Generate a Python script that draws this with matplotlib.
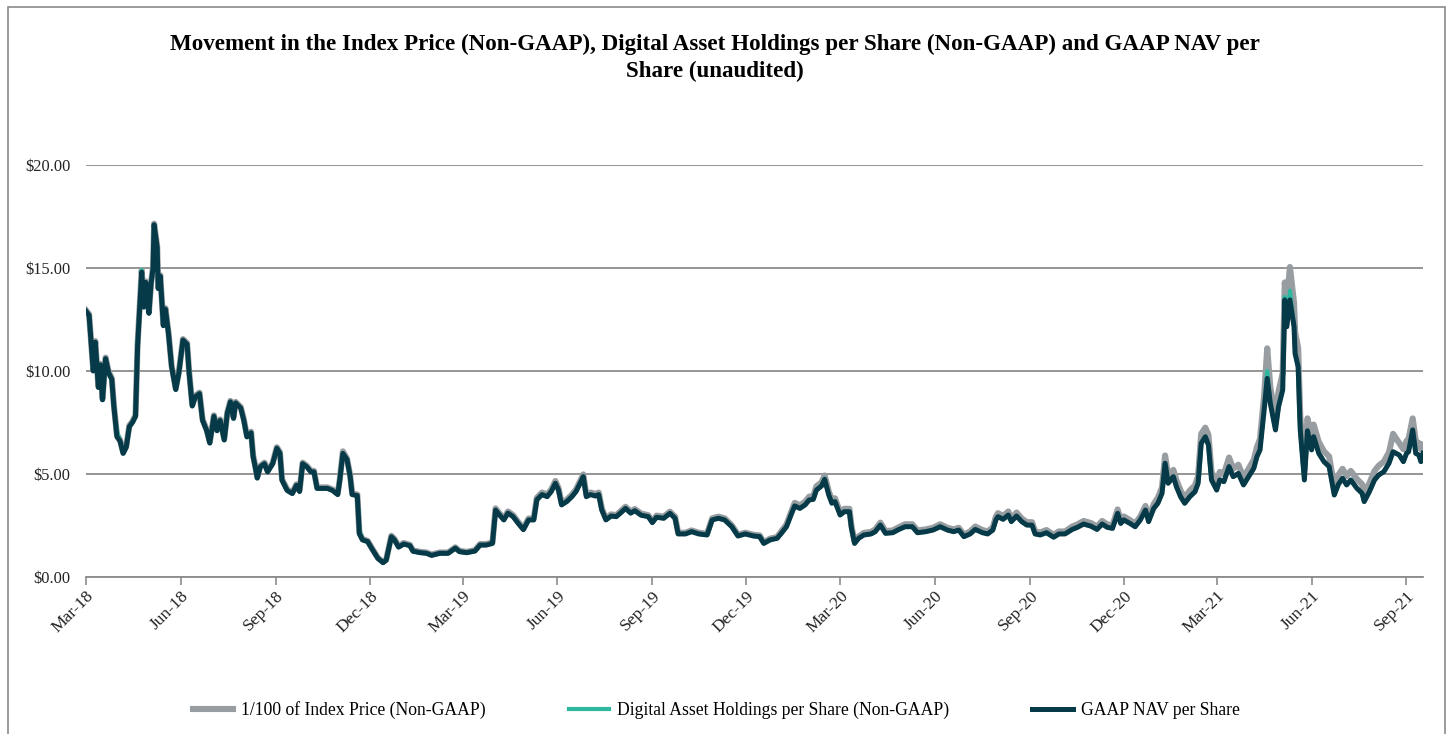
import matplotlib
matplotlib.use("Agg")
import matplotlib.pyplot as plt
import matplotlib.dates as mdates
from matplotlib.patches import Rectangle
from matplotlib.lines import Line2D
from matplotlib.ticker import FuncFormatter
import pandas as pd

# ---------------- data ----------------
dates = [
    "2018-03-01", "2018-03-04", "2018-03-08", "2018-03-10", "2018-03-13", "2018-03-15", "2018-03-17", "2018-03-20", "2018-03-23", "2018-03-26",
    "2018-03-28", "2018-03-31", "2018-04-03", "2018-04-06", "2018-04-09", "2018-04-12", "2018-04-15", "2018-04-18", "2018-04-20", "2018-04-24",
    "2018-04-26", "2018-04-28", "2018-05-01", "2018-05-03", "2018-05-05", "2018-05-06", "2018-05-09", "2018-05-10", "2018-05-12", "2018-05-15",
    "2018-05-17", "2018-05-20", "2018-05-23", "2018-05-27", "2018-05-30", "2018-06-03", "2018-06-07", "2018-06-09", "2018-06-12", "2018-06-15",
    "2018-06-19", "2018-06-22", "2018-06-26", "2018-06-29", "2018-07-03", "2018-07-06", "2018-07-09", "2018-07-13", "2018-07-16", "2018-07-19",
    "2018-07-22", "2018-07-24", "2018-07-29", "2018-08-01", "2018-08-04", "2018-08-08", "2018-08-10", "2018-08-12", "2018-08-14", "2018-08-17",
    "2018-08-21", "2018-08-24", "2018-08-29", "2018-09-02", "2018-09-05", "2018-09-07", "2018-09-12", "2018-09-17", "2018-09-21", "2018-09-24",
    "2018-09-27", "2018-10-01", "2018-10-05", "2018-10-08", "2018-10-11", "2018-10-16", "2018-10-21", "2018-10-26", "2018-10-31", "2018-11-02",
    "2018-11-05", "2018-11-09", "2018-11-12", "2018-11-14", "2018-11-19", "2018-11-21", "2018-11-24", "2018-11-29", "2018-12-04", "2018-12-09",
    "2018-12-14", "2018-12-17", "2018-12-22", "2018-12-25", "2018-12-29",
    "2019-01-03", "2019-01-09", "2019-01-12", "2019-01-19", "2019-01-25", "2019-01-30", "2019-02-07", "2019-02-15", "2019-02-22", "2019-02-26",
    "2019-03-05", "2019-03-13", "2019-03-18", "2019-03-24", "2019-03-30", "2019-04-02", "2019-04-06", "2019-04-10", "2019-04-14", "2019-04-19",
    "2019-04-24", "2019-04-29", "2019-05-04", "2019-05-09", "2019-05-12", "2019-05-17", "2019-05-22", "2019-05-26", "2019-05-30", "2019-06-02",
    "2019-06-05", "2019-06-10", "2019-06-15", "2019-06-19", "2019-06-23", "2019-06-26", "2019-06-29", "2019-07-03", "2019-07-08", "2019-07-11",
    "2019-07-14", "2019-07-18", "2019-07-23", "2019-07-28", "2019-08-01", "2019-08-06", "2019-08-11", "2019-08-15", "2019-08-21", "2019-08-28",
    "2019-09-01", "2019-09-05", "2019-09-12", "2019-09-18", "2019-09-23", "2019-09-26", "2019-10-03", "2019-10-09", "2019-10-16", "2019-10-24",
    "2019-10-29", "2019-11-04", "2019-11-10", "2019-11-17", "2019-11-23", "2019-11-30", "2019-12-08", "2019-12-14", "2019-12-18", "2019-12-24",
    "2019-12-31",
    "2020-01-04", "2020-01-09", "2020-01-14", "2020-01-17", "2020-01-22", "2020-01-27", "2020-01-31", "2020-02-04", "2020-02-07", "2020-02-12",
    "2020-02-15", "2020-02-19", "2020-02-22", "2020-02-25", "2020-03-01", "2020-03-05", "2020-03-10", "2020-03-12", "2020-03-15", "2020-03-19",
    "2020-03-24", "2020-03-31", "2020-04-04", "2020-04-09", "2020-04-14", "2020-04-21", "2020-04-27", "2020-05-03", "2020-05-10", "2020-05-15",
    "2020-05-23", "2020-05-30", "2020-06-06", "2020-06-13", "2020-06-19", "2020-06-24", "2020-06-29", "2020-07-05", "2020-07-10", "2020-07-17",
    "2020-07-22", "2020-07-27", "2020-07-30", "2020-08-01", "2020-08-06", "2020-08-11", "2020-08-14", "2020-08-19", "2020-08-24", "2020-08-29",
    "2020-09-03", "2020-09-06", "2020-09-11", "2020-09-17", "2020-09-24", "2020-09-29", "2020-10-05", "2020-10-12", "2020-10-17", "2020-10-23",
    "2020-10-30", "2020-11-05", "2020-11-10", "2020-11-15", "2020-11-20", "2020-11-25", "2020-11-28", "2020-12-01", "2020-12-07", "2020-12-12",
    "2020-12-17", "2020-12-22", "2020-12-25", "2020-12-30",
    "2021-01-03", "2021-01-07", "2021-01-10", "2021-01-13", "2021-01-18", "2021-01-21", "2021-01-25", "2021-01-29", "2021-02-03", "2021-02-08",
    "2021-02-11", "2021-02-14", "2021-02-18", "2021-02-21", "2021-02-24", "2021-03-01", "2021-03-04", "2021-03-08", "2021-03-13", "2021-03-17",
    "2021-03-22", "2021-03-27", "2021-04-01", "2021-04-06", "2021-04-09", "2021-04-12", "2021-04-16", "2021-04-19", "2021-04-22", "2021-04-27",
    "2021-04-30", "2021-05-04", "2021-05-06", "2021-05-08", "2021-05-11", "2021-05-15", "2021-05-16", "2021-05-19", "2021-05-21", "2021-05-25",
    "2021-05-28", "2021-06-01", "2021-06-03", "2021-06-08", "2021-06-13", "2021-06-18", "2021-06-23", "2021-06-27", "2021-07-01", "2021-07-05",
    "2021-07-09", "2021-07-15", "2021-07-20", "2021-07-22", "2021-07-27", "2021-08-01", "2021-08-05", "2021-08-10", "2021-08-15", "2021-08-19",
    "2021-08-25", "2021-08-29", "2021-09-01", "2021-09-03", "2021-09-07", "2021-09-10", "2021-09-13", "2021-09-15", "2021-09-17",
]

gaap_nav = [
    12.9, 12.7, 10.0, 11.4, 9.2, 10.3, 8.6, 10.6, 9.9, 9.6,
    8.3, 6.8, 6.6, 6.0, 6.3, 7.3, 7.5, 7.8, 11.2, 14.8,
    13.1, 14.3, 12.8, 14.2, 15.0, 17.1, 16.0, 14.0, 14.6, 12.2,
    13.0, 11.8, 10.2, 9.1, 9.9, 11.5, 11.3, 9.9, 8.3, 8.75,
    8.9, 7.6, 7.1, 6.5, 7.8, 7.1, 7.6, 6.65, 7.95, 8.5,
    7.7, 8.45, 8.2, 7.6, 6.8, 7.0, 5.85, 5.35, 4.8, 5.35,
    5.5, 5.1, 5.5, 6.25, 6.0, 4.7, 4.2, 4.05, 4.45, 4.15,
    5.5, 5.35, 5.1, 5.1, 4.3, 4.3, 4.3, 4.2, 4.0, 4.7,
    6.0, 5.7, 4.9, 4.0, 3.95, 2.1, 1.8, 1.72, 1.3, 0.9,
    0.7, 0.82, 1.95, 1.8, 1.45,
    1.6, 1.52, 1.25, 1.18, 1.15, 1.05, 1.15, 1.15, 1.4, 1.23,
    1.18, 1.26, 1.55, 1.55, 1.63, 3.25, 3.0, 2.77, 3.1, 2.93,
    2.6, 2.3, 2.77, 2.77, 3.75, 4.0, 3.9, 4.15, 4.55, 4.22,
    3.5, 3.66, 3.9, 4.15, 4.55, 4.87, 3.9, 4.0, 3.93, 4.0,
    3.25, 2.77, 2.96, 2.93, 3.1, 3.33, 3.1, 3.22, 3.0, 2.93,
    2.64, 2.9, 2.85, 3.09, 2.85, 2.09, 2.09, 2.2, 2.09, 2.04,
    2.77, 2.85, 2.77, 2.44, 1.99, 2.09, 1.99, 1.96, 1.63, 1.8,
    1.88,
    2.12, 2.44, 3.09, 3.45, 3.33, 3.5, 3.74, 3.77, 4.22, 4.42,
    4.74, 3.98, 3.58, 3.66, 3.01, 3.17, 3.17, 2.36, 1.63, 1.88,
    2.04, 2.09, 2.2, 2.52, 2.12, 2.15, 2.31, 2.44, 2.44, 2.15,
    2.2, 2.28, 2.44, 2.28, 2.2, 2.28, 1.96, 2.09, 2.31, 2.15,
    2.09, 2.28, 2.77, 2.93, 2.8, 3.01, 2.69, 2.96, 2.69, 2.52,
    2.52, 2.09, 2.04, 2.15, 1.93, 2.09, 2.09, 2.31, 2.41, 2.57,
    2.47, 2.31, 2.57, 2.41, 2.36, 3.09, 2.6, 2.77, 2.6, 2.44,
    2.77, 3.25, 2.69, 3.33,
    3.58, 4.06, 5.52, 4.55, 4.87, 4.38, 3.9, 3.58, 3.9, 4.14,
    4.55, 6.49, 6.81, 6.41, 4.71, 4.22, 4.71, 4.63, 5.36, 4.87,
    5.03, 4.47, 4.87, 5.28, 5.84, 6.17, 8.1, 9.64, 8.43, 7.14,
    8.27, 9.08, 13.45, 12.15, 13.45, 12.15, 10.85, 10.2, 7.14, 4.71,
    7.1, 6.17, 6.81, 6.0, 5.6, 5.36, 3.98, 4.5, 4.79, 4.47,
    4.71, 4.3, 4.06, 3.66, 4.14, 4.71, 4.95, 5.11, 5.52, 6.08,
    5.92, 5.6, 6.0, 6.08, 7.14, 6.0, 5.92, 5.6, 6.0,
]

index_price_div100 = [
    12.95, 12.75, 10.05, 11.45, 9.25, 10.35, 8.65, 10.65, 9.95, 9.65,
    8.35, 6.9, 6.65, 6.05, 6.35, 7.35, 7.55, 7.85, 11.3, 14.9,
    13.15, 14.35, 12.85, 14.25, 15.05, 17.15, 16.05, 14.05, 14.65, 12.25,
    13.05, 11.85, 10.25, 9.15, 9.95, 11.55, 11.35, 9.95, 8.35, 8.8,
    8.95, 7.65, 7.15, 6.55, 7.85, 7.15, 7.65, 6.7, 8.0, 8.55,
    7.75, 8.5, 8.25, 7.65, 6.85, 7.05, 5.9, 5.4, 4.85, 5.4,
    5.55, 5.15, 5.55, 6.3, 6.05, 4.75, 4.25, 4.1, 4.5, 4.2,
    5.55, 5.4, 5.15, 5.15, 4.35, 4.35, 4.35, 4.25, 4.05, 4.75,
    6.1, 5.75, 4.95, 4.05, 4.0, 2.15, 1.85, 1.75, 1.33, 0.93,
    0.72, 0.85, 2.0, 1.85, 1.5,
    1.65, 1.56, 1.29, 1.22, 1.19, 1.09, 1.19, 1.19, 1.44, 1.27,
    1.22, 1.3, 1.6, 1.6, 1.68, 3.33, 3.08, 2.84, 3.18, 3.0,
    2.67, 2.36, 2.84, 2.84, 3.84, 4.1, 4.0, 4.25, 4.66, 4.32,
    3.59, 3.75, 4.0, 4.25, 4.66, 4.98, 4.0, 4.1, 4.03, 4.1,
    3.33, 2.84, 3.04, 3.0, 3.18, 3.41, 3.18, 3.3, 3.08, 3.0,
    2.71, 2.98, 2.93, 3.17, 2.93, 2.15, 2.15, 2.26, 2.15, 2.1,
    2.85, 2.93, 2.85, 2.51, 2.05, 2.15, 2.05, 2.02, 1.68, 1.86,
    1.94,
    2.22, 2.55, 3.22, 3.6, 3.48, 3.65, 3.9, 3.93, 4.4, 4.6,
    4.93, 4.15, 3.74, 3.82, 3.15, 3.31, 3.31, 2.47, 1.72, 1.97,
    2.14, 2.19, 2.31, 2.64, 2.23, 2.26, 2.42, 2.56, 2.56, 2.26,
    2.31, 2.39, 2.56, 2.39, 2.31, 2.39, 2.06, 2.21, 2.45, 2.28,
    2.21, 2.41, 2.93, 3.1, 2.96, 3.18, 2.84, 3.13, 2.84, 2.66,
    2.66, 2.21, 2.16, 2.28, 2.05, 2.21, 2.21, 2.45, 2.55, 2.72,
    2.62, 2.45, 2.72, 2.55, 2.5, 3.28, 2.76, 2.94, 2.76, 2.59,
    2.94, 3.45, 2.86, 3.54,
    3.85, 4.35, 5.9, 4.9, 5.2, 4.7, 4.2, 3.85, 4.2, 4.45,
    4.9, 6.95, 7.25, 6.9, 5.1, 4.6, 5.1, 5.0, 5.8, 5.25,
    5.45, 4.85, 5.25, 5.7, 6.3, 6.7, 8.8, 11.1, 9.2, 7.8,
    9.0, 9.9, 14.3, 13.3, 15.05, 13.3, 11.9, 11.1, 7.8, 5.2,
    7.7, 6.75, 7.4, 6.55, 6.1, 5.85, 4.4, 4.95, 5.25, 4.9,
    5.15, 4.75, 4.5, 4.05, 4.55, 5.15, 5.4, 5.6, 6.05, 6.95,
    6.5, 6.2, 6.6, 6.7, 7.7, 6.6, 6.5, 6.2, 6.4,
]

digital_asset_holdings = [
    12.9, 12.7, 10.0, 11.4, 9.2, 10.3, 8.6, 10.6, 9.9, 9.6,
    8.3, 7.1, 6.6, 6.0, 6.3, 7.3, 7.5, 7.8, 11.3, 14.9,
    13.1, 14.3, 12.8, 14.2, 15.0, 17.1, 16.0, 14.0, 14.6, 12.2,
    13.0, 11.8, 10.2, 9.1, 9.9, 11.5, 11.3, 9.9, 8.3, 8.75,
    8.9, 7.6, 7.1, 6.5, 7.8, 7.1, 7.6, 6.65, 7.95, 8.5,
    7.7, 8.45, 8.2, 7.6, 6.8, 7.0, 5.85, 5.35, 4.8, 5.35,
    5.5, 5.1, 5.5, 6.25, 6.0, 4.7, 4.2, 4.05, 4.45, 4.15,
    5.5, 5.35, 5.1, 5.1, 4.3, 4.3, 4.3, 4.2, 4.0, 4.7,
    6.0, 5.7, 4.9, 4.0, 3.95, 2.3, 1.8, 1.72, 1.3, 0.9,
    0.7, 0.82, 1.95, 1.8, 1.45,
    1.6, 1.52, 1.25, 1.18, 1.15, 1.05, 1.15, 1.15, 1.4, 1.23,
    1.18, 1.26, 1.55, 1.55, 1.63, 3.25, 3.0, 2.77, 3.1, 2.93,
    2.6, 2.3, 2.77, 2.77, 3.75, 4.0, 3.9, 4.15, 4.55, 4.22,
    3.5, 3.66, 3.9, 4.15, 4.55, 4.87, 3.9, 4.0, 3.93, 4.0,
    3.25, 2.77, 2.96, 2.93, 3.1, 3.33, 3.1, 3.22, 3.0, 2.93,
    2.64, 2.9, 2.85, 3.09, 2.85, 2.09, 2.09, 2.2, 2.09, 2.04,
    2.77, 2.85, 2.77, 2.44, 1.99, 2.09, 1.99, 1.96, 1.63, 1.8,
    1.88,
    2.12, 2.44, 3.09, 3.45, 3.33, 3.5, 3.74, 3.77, 4.22, 4.42,
    4.78, 3.98, 3.58, 3.66, 3.01, 3.17, 3.17, 2.36, 1.63, 1.88,
    2.04, 2.09, 2.2, 2.52, 2.12, 2.15, 2.31, 2.44, 2.44, 2.15,
    2.2, 2.28, 2.44, 2.28, 2.2, 2.28, 1.96, 2.09, 2.31, 2.15,
    2.09, 2.28, 2.77, 2.93, 2.8, 3.01, 2.69, 2.96, 2.69, 2.52,
    2.52, 2.09, 2.04, 2.15, 1.93, 2.09, 2.09, 2.31, 2.41, 2.57,
    2.47, 2.31, 2.57, 2.41, 2.36, 3.09, 2.6, 2.77, 2.6, 2.44,
    2.77, 3.25, 2.69, 3.33,
    3.58, 4.06, 5.52, 4.55, 4.87, 4.38, 3.9, 3.58, 3.9, 4.14,
    4.55, 6.49, 6.81, 6.41, 4.71, 4.22, 4.71, 4.63, 5.36, 4.87,
    5.03, 4.47, 4.87, 5.28, 5.84, 6.17, 8.1, 10.0, 8.43, 7.14,
    8.27, 9.08, 13.6, 12.15, 13.9, 12.15, 10.85, 10.2, 7.14, 4.71,
    7.1, 6.17, 6.81, 6.0, 5.6, 5.36, 3.98, 4.5, 4.79, 4.47,
    4.71, 4.3, 4.06, 3.66, 4.14, 4.71, 4.95, 5.11, 5.52, 6.08,
    5.92, 5.6, 6.0, 6.08, 7.14, 6.0, 5.92, 5.6, 6.0,
]

y_ticks = [0, 5, 10, 15, 20]
title_text = ("Movement in the Index Price (Non-GAAP), Digital Asset Holdings per Share (Non-GAAP) and GAAP NAV per\n"
              "Share (unaudited)")
series_labels = ["1/100 of Index Price (Non-GAAP)",
                 "Digital Asset Holdings per Share (Non-GAAP)",
                 "GAAP NAV per Share"]

assert len(dates) == len(gaap_nav) == len(index_price_div100) == len(digital_asset_holdings)

# ---------------- styling ----------------
GRAY = "#989da1"
TEAL = "#2fb8a0"
DARK = "#073a48"
GRID = "#8c8c8c"

plt.rcParams["font.family"] = ["Liberation Serif", "DejaVu Serif"]

x = pd.to_datetime(dates)

fig = plt.figure(figsize=(14.48, 7.34), dpi=100)
ax = fig.add_axes([86 / 1448, 1 - 577 / 734, (1423 - 86) / 1448, (577 - 165) / 734])

ax.plot(x, index_price_div100, color=GRAY, lw=4.4, solid_joinstyle="round", zorder=3)
ax.plot(x, digital_asset_holdings, color=TEAL, lw=3.0, solid_joinstyle="round", zorder=4)
ax.plot(x, gaap_nav, color=DARK, lw=3.6, solid_joinstyle="round", zorder=5)

ax.set_xlim(x[0], x[-1])
ax.set_ylim(0, 20)
ax.set_yticks(y_ticks)
ax.yaxis.set_major_formatter(FuncFormatter(lambda v, p: f"${v:,.2f}"))
ax.tick_params(axis="y", length=0, pad=11, labelsize=11.8, labelcolor="#222222")

ax.xaxis.set_major_locator(mdates.MonthLocator(bymonth=[3, 6, 9, 12]))
ax.xaxis.set_major_formatter(mdates.DateFormatter("%b-%y"))
ax.tick_params(axis="x", length=6, width=1.2, color=GRID, pad=2, labelsize=12.5, labelcolor="#222222")
for lab in ax.get_xticklabels():
    lab.set_rotation(45)
    lab.set_ha("right")
    lab.set_va("top")
    lab.set_rotation_mode("anchor")

ax.grid(axis="y", color=GRID, lw=1.3)
ax.set_axisbelow(True)
for s in ["top", "right", "left"]:
    ax.spines[s].set_visible(False)
ax.spines["bottom"].set_color(GRID)
ax.spines["bottom"].set_linewidth(1.3)
ax.set_facecolor("none")

fig.text(715 / 1448, 1 - 58 / 734, title_text, ha="center", va="center",
         fontsize=16.6, fontweight="bold", linespacing=1.38, multialignment="center")

handles = [Line2D([], [], color=GRAY, lw=4.4),
           Line2D([], [], color=TEAL, lw=3.0),
           Line2D([], [], color=DARK, lw=3.6)]
fig.legend(handles, series_labels, loc="center", bbox_to_anchor=(716 / 1448, 1 - 710 / 734),
           ncol=3, frameon=False, fontsize=12.7, handlelength=2.3, handletextpad=0.45,
           columnspacing=4.7)

fig.patches.append(Rectangle((8 / 1448, -0.02), (1445 - 8) / 1448, 1.02 - 7 / 734,
                             transform=fig.transFigure, fill=False, edgecolor="#8a8a8a", lw=1.2))

fig.savefig("out.png", dpi=100)
